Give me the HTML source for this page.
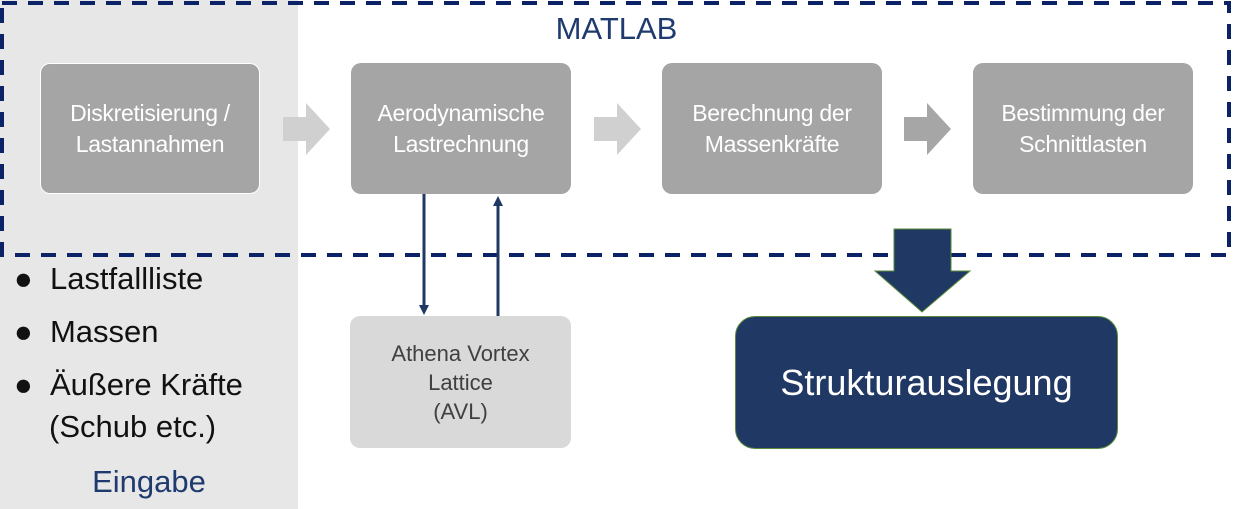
<!DOCTYPE html>
<html><head><meta charset="utf-8"><style>
body{margin:0;width:1233px;height:509px;position:relative;background:#fff;font-family:"Liberation Sans",sans-serif;overflow:hidden}
.a{position:absolute}
.box{position:absolute;top:63px;width:220px;height:131px;background:#a5a5a5;border-radius:10px;color:#fff;font-size:23px;line-height:31px;display:flex;align-items:center;justify-content:center;text-align:center;letter-spacing:-0.3px}
.t{position:absolute;font-size:31px;color:#111}
</style></head><body>
<div class="a" style="left:0;top:0;width:298px;height:509px;background:#e7e7e7"></div>
<svg class="a" style="left:0;top:0" width="1233" height="509">
<rect x="2" y="3" width="1227" height="252" fill="none" stroke="#0b2366" stroke-width="4" stroke-dasharray="15 11"/>
<polygon points="283,117 306,117 306,103 330,129 306,155 306,141 283,141" fill="#d0d0d0"/>
<polygon points="594,117 617,117 617,103 641,129 617,155 617,141 594,141" fill="#d0d0d0"/>
<polygon points="904,117 927,117 927,103 951,129 927,155 927,141 904,141" fill="#a6a6a6"/>
<line x1="424" y1="194" x2="424" y2="306" stroke="#203864" stroke-width="3"/>
<polygon points="419,305 429,305 424,315" fill="#203864"/>
<line x1="498" y1="316" x2="498" y2="204" stroke="#203864" stroke-width="3"/>
<polygon points="493,206 503,206 498,196" fill="#203864"/>
<polygon points="894,229 951,229 951,271 970,271 922,312 875,271 894,271" fill="#203864" stroke="#5a8a3a" stroke-width="1"/>
</svg>
<div class="box" style="left:40px;border:1px solid #fff;width:218px;height:129px">Diskretisierung /<br>Lastannahmen</div>
<div class="box" style="left:351px">Aerodynamische<br>Lastrechnung</div>
<div class="box" style="left:662px">Berechnung der<br>Massenkräfte</div>
<div class="box" style="left:973px">Bestimmung der<br>Schnittlasten</div>
<div class="a" style="left:350px;top:316px;width:221px;height:132px;background:#d9d9d9;border-radius:10px;color:#404040;font-size:22px;line-height:29px;display:flex;align-items:center;justify-content:center;text-align:center">Athena Vortex<br>Lattice<br>(AVL)</div>
<div class="a" style="left:735px;top:316px;width:381px;height:131px;background:#203864;border:1px solid #5a8a3a;border-radius:20px;color:#fff;font-size:36px;display:flex;align-items:center;justify-content:center">Strukturauslegung</div>
<div class="a" style="left:0;width:1233px;top:11px;text-align:center;font-size:31px;color:#1f3a6e">MATLAB</div>
<div class="t" style="left:14px;top:261px">●&nbsp;&nbsp;Lastfallliste</div>
<div class="t" style="left:14px;top:314px">●&nbsp;&nbsp;Massen</div>
<div class="t" style="left:14px;top:367px">●&nbsp;&nbsp;Äußere Kräfte</div>
<div class="t" style="left:49px;top:409px">(Schub etc.)</div>
<div class="a" style="left:0;width:298px;top:464px;text-align:center;font-size:31px;color:#1f3a6e">Eingabe</div>
</body></html>
